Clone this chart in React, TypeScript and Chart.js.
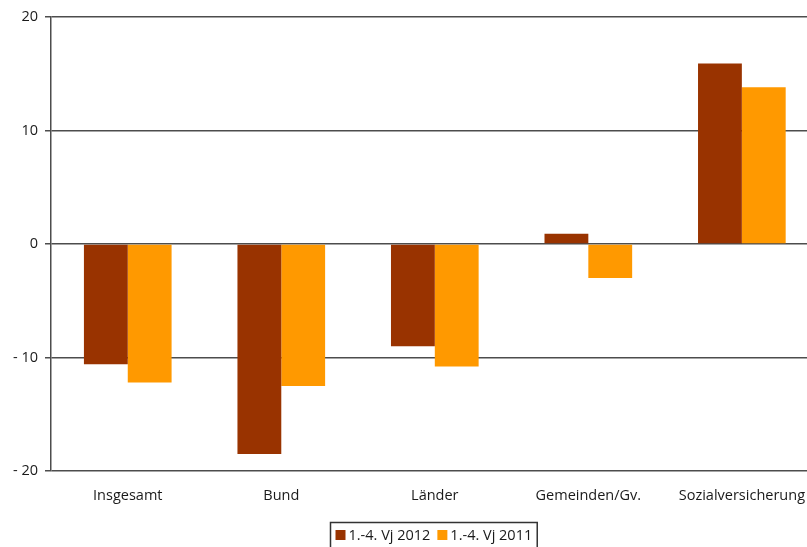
import React, { useEffect, useRef } from "react";
import { Chart, registerables } from "chart.js";

Chart.register(...registerables);

const categories = ["Insgesamt", "Bund", "Länder", "Gemeinden/Gv.", "Sozialversicherung"];
const series2012 = [-10.6, -18.5, -9.0, 0.9, 15.9];
const series2011 = [-12.2, -12.5, -10.8, -3.0, 13.8];
const seriesNames = ["1.-4. Vj 2012", "1.-4. Vj 2011"];
const colors = ["#993300", "#FF9900"];
const yTicks = [-20, -10, 0, 10, 20];

const FONT = "'Open Sans', sans-serif";
const FS = 14.5;

const legendPlugin = {
  id: "boxLegend",
  afterDraw(chart: any) {
    const ctx = chart.ctx;
    ctx.save();
    ctx.font = `${FS}px ${FONT}`;
    const ds = chart.data.datasets;
    const box = 10;
    const gap = 3;
    const itemGap = 7;
    const widths = ds.map((d: any) => box + gap + ctx.measureText(d.label).width);
    const total = widths.reduce((a: number, b: number) => a + b, 0) + itemGap * (ds.length - 1) + 10;
    const cx = 433;
    const left = Math.round(cx - total / 2) + 0.5;
    ctx.strokeStyle = "#333";
    ctx.lineWidth = 1.5;
    ctx.strokeRect(left, 522.5, total, 40);
    let x = left + 5;
    ds.forEach((d: any, i: number) => {
      ctx.fillStyle = d.backgroundColor;
      ctx.fillRect(x, 530, box, box);
      ctx.fillStyle = "#1a1a1a";
      ctx.textBaseline = "middle";
      ctx.textAlign = "left";
      ctx.fillText(d.label, x + box + gap, 535.5);
      x += widths[i] + itemGap;
    });
    ctx.restore();
  },
};

export default function App() {
  const ref = useRef<HTMLCanvasElement>(null);
  useEffect(() => {
    if (!ref.current) return;
    const chart = new Chart(ref.current, {
      type: "bar",
      data: {
        labels: categories,
        datasets: [
          { label: seriesNames[0], data: series2012, backgroundColor: colors[0] },
          { label: seriesNames[1], data: series2011, backgroundColor: colors[1] },
        ],
      },
      plugins: [legendPlugin],
      options: {
        animation: false,
        responsive: false,
        maintainAspectRatio: false,
        layout: { padding: { top: 17, bottom: 36, right: 0, left: 0 } },
        datasets: { bar: { barPercentage: 1, categoryPercentage: 0.571 } },
        plugins: { legend: { display: false }, tooltip: { enabled: false } },
        scales: {
          x: {
            grid: { display: false, drawTicks: false },
            border: { display: false },
            ticks: { padding: 16, color: "#1a1a1a", font: { family: FONT, size: FS }, maxRotation: 0, autoSkip: false },
            afterFit: (s: any) => { s.height = 40; },
          },
          y: {
            min: -20,
            max: 20,
            afterBuildTicks: (s: any) => { s.ticks = yTicks.map((v) => ({ value: v })); },
            grid: { color: "#4d4d4d", lineWidth: 1.5, drawTicks: true, tickLength: 6 },
            border: { display: true, color: "#4d4d4d", width: 1.5 },
            ticks: {
              padding: 7,
              color: "#1a1a1a",
              font: { family: FONT, size: FS },
              callback: (v: any) => (v < 0 ? `- ${Math.abs(v)}` : `${v}`),
            },
            afterFit: (s: any) => { s.width = 51; },
          },
        },
      },
    });
    return () => chart.destroy();
  }, []);
  return (
    <div style={{ position: "fixed", left: 0, top: 0, width: 807, height: 547, background: "#fff", overflow: "hidden" }}>
      <canvas ref={ref} width={821} height={547} style={{ width: 821, height: 547, display: "block" }} />
    </div>
  );
}
